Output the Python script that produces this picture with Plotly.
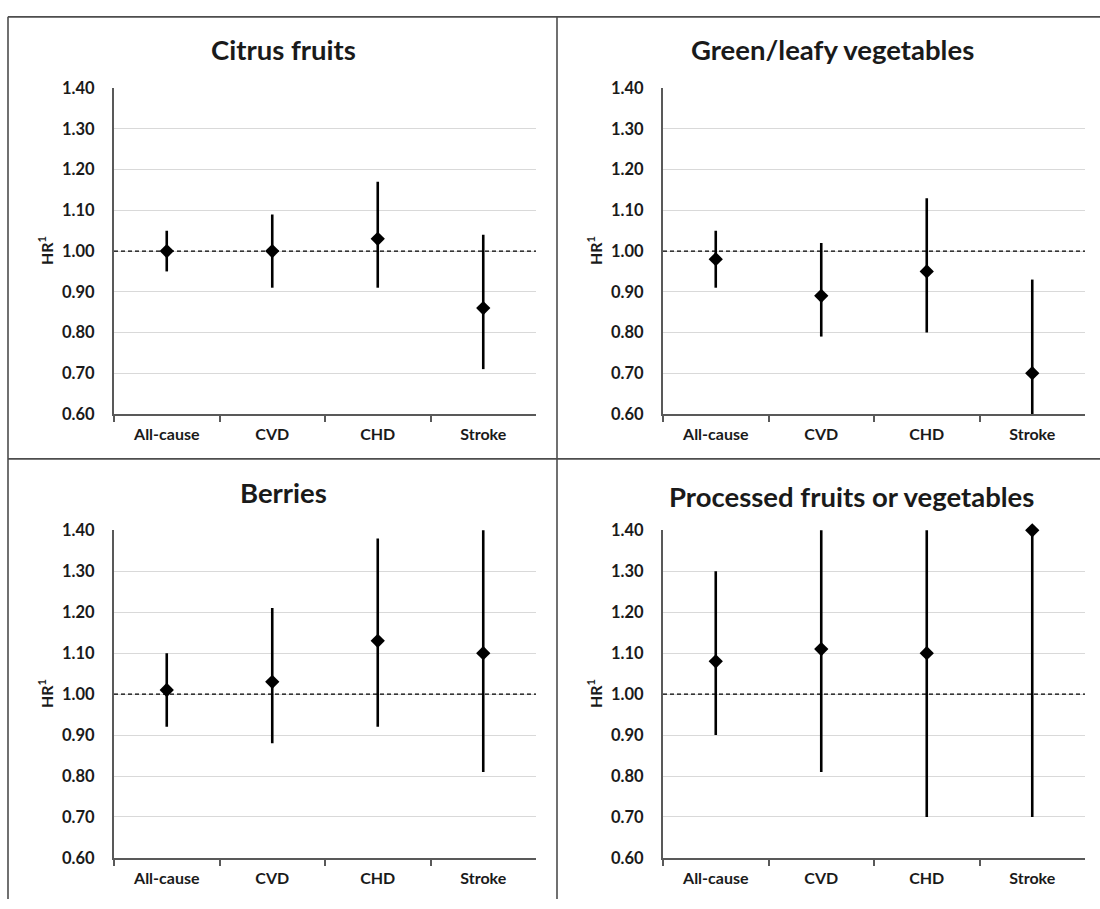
import plotly.graph_objects as go

# Outcomes along the x axis of every panel
categories = ["All-cause", "CVD", "CHD", "Stroke"]

# Panel titles
panel_titles = ["Citrus fruits", "Green/leafy vegetables", "Berries", "Processed fruits or vegetables"]

# Hazard ratios with 95% CI bounds, one list per panel
citrus_hr = [1.00, 1.00, 1.03, 0.86]
citrus_lo = [0.95, 0.91, 0.91, 0.71]
citrus_hi = [1.05, 1.09, 1.17, 1.04]

green_hr = [0.98, 0.89, 0.95, 0.70]
green_lo = [0.91, 0.79, 0.80, 0.52]
green_hi = [1.05, 1.02, 1.13, 0.93]

berries_hr = [1.01, 1.03, 1.13, 1.10]
berries_lo = [0.92, 0.88, 0.92, 0.81]
berries_hi = [1.10, 1.21, 1.38, 1.49]

processed_hr = [1.08, 1.11, 1.10, 1.40]
processed_lo = [0.90, 0.81, 0.70, 0.70]
processed_hi = [1.30, 1.52, 1.73, 2.80]

y_ticks = [0.60, 0.70, 0.80, 0.90, 1.00, 1.10, 1.20, 1.30, 1.40]
reference_hr = 1.00

W, H = 1100, 909
FONT = "Lato"
INK = "#1a1a1a"
AXIS = "#595959"


def px_x(v):
    return v / W


def px_y(v):
    return 1 - v / H


# plot-area pixel boxes: (left, right, top, bottom)
boxes = [
    (114, 536, 80, 413),
    (663, 1085, 80, 413),
    (114, 536, 532, 867),
    (663, 1085, 532, 867),
]
# title centres in pixels
title_pos = [(283, 40), (832, 40), (283, 493), (851, 497)]

series = [
    (citrus_hr, citrus_lo, citrus_hi),
    (green_hr, green_lo, green_hi),
    (berries_hr, berries_lo, berries_hi),
    (processed_hr, processed_lo, processed_hi),
]

fig = go.Figure()
layout = {}
annotations = []
shapes = []

for i, ((hr, lo, hi), box, title, tpos) in enumerate(zip(series, boxes, panel_titles, title_pos)):
    n = "" if i == 0 else str(i + 1)
    xa, ya = "x" + n, "y" + n
    left, right, top, bottom = box

    # confidence interval whiskers
    wx, wy = [], []
    for c, l, h in zip(categories, lo, hi):
        wx += [c, c, None]
        wy += [l, h, None]
    fig.add_trace(go.Scatter(
        x=wx, y=wy, mode="lines", xaxis=xa, yaxis=ya,
        line=dict(color="black", width=2.6), hoverinfo="skip", showlegend=False,
    ))
    # point estimates
    fig.add_trace(go.Scatter(
        x=categories, y=hr, mode="markers", xaxis=xa, yaxis=ya,
        marker=dict(symbol="diamond", size=11, color="black"),
        cliponaxis=False, showlegend=False,
    ))

    layout["xaxis" + n] = dict(
        domain=[px_x(left), px_x(right)], anchor=ya,
        type="category", range=[-0.5, 3.5], tickson="boundaries",
        ticks="outside", ticklen=6, tickwidth=1.5, tickcolor=AXIS,
        showline=True, linecolor=AXIS, linewidth=2, showgrid=False,
        tickfont=dict(family=FONT, size=16, color=INK, weight="bold"),
        ticklabelstandoff=5, zeroline=False,
    )
    layout["yaxis" + n] = dict(
        domain=[px_y(bottom), px_y(top)], anchor=xa,
        range=[0.6, 1.4], tickvals=y_ticks, tickformat=".2f",
        showline=True, linecolor=AXIS, linewidth=2, ticks="",
        showgrid=True, gridcolor="#d9d9d9", gridwidth=1, zeroline=False,
        tickfont=dict(family=FONT, size=16.5, color=INK, weight="bold"),
        ticklabelstandoff=14,
    )

    # reference line at HR = 1
    shapes.append(dict(
        type="line", xref=xa + " domain", yref=ya, x0=0, x1=1,
        y0=reference_hr, y1=reference_hr,
        line=dict(color="black", width=1.4, dash="4px,3px"),
    ))

    annotations.append(dict(
        text=title, x=px_x(tpos[0]), y=px_y(tpos[1]), xref="paper", yref="paper",
        xanchor="center", yanchor="middle", showarrow=False,
        font=dict(family=FONT, size=27.5, color=INK, weight="bold"),
    ))
    annotations.append(dict(
        text="HR<sup>1</sup>", x=px_x(left - 69), y=px_y((top + bottom) / 2),
        xref="paper", yref="paper", xanchor="center", yanchor="middle",
        textangle=-90, showarrow=False,
        font=dict(family=FONT, size=16, color=INK, weight="bold"),
    ))

# panel frame and dividers
frame = dict(color="#4d4d4d", width=1.6)
shapes += [
    dict(type="line", xref="paper", yref="paper", x0=px_x(8), x1=1, y0=px_y(7), y1=px_y(7), line=frame),
    dict(type="line", xref="paper", yref="paper", x0=px_x(8), x1=px_x(8), y0=px_y(7), y1=0, line=frame),
    dict(type="line", xref="paper", yref="paper", x0=px_x(557), x1=px_x(557), y0=px_y(7), y1=0, line=frame),
    dict(type="line", xref="paper", yref="paper", x0=px_x(8), x1=1, y0=px_y(459), y1=px_y(459), line=frame),
]

fig.update_layout(
    width=W, height=H, margin=dict(l=0, r=0, t=0, b=0),
    paper_bgcolor="white", plot_bgcolor="white",
    annotations=annotations, shapes=shapes, **layout,
)

fig.write_html("out.html")
